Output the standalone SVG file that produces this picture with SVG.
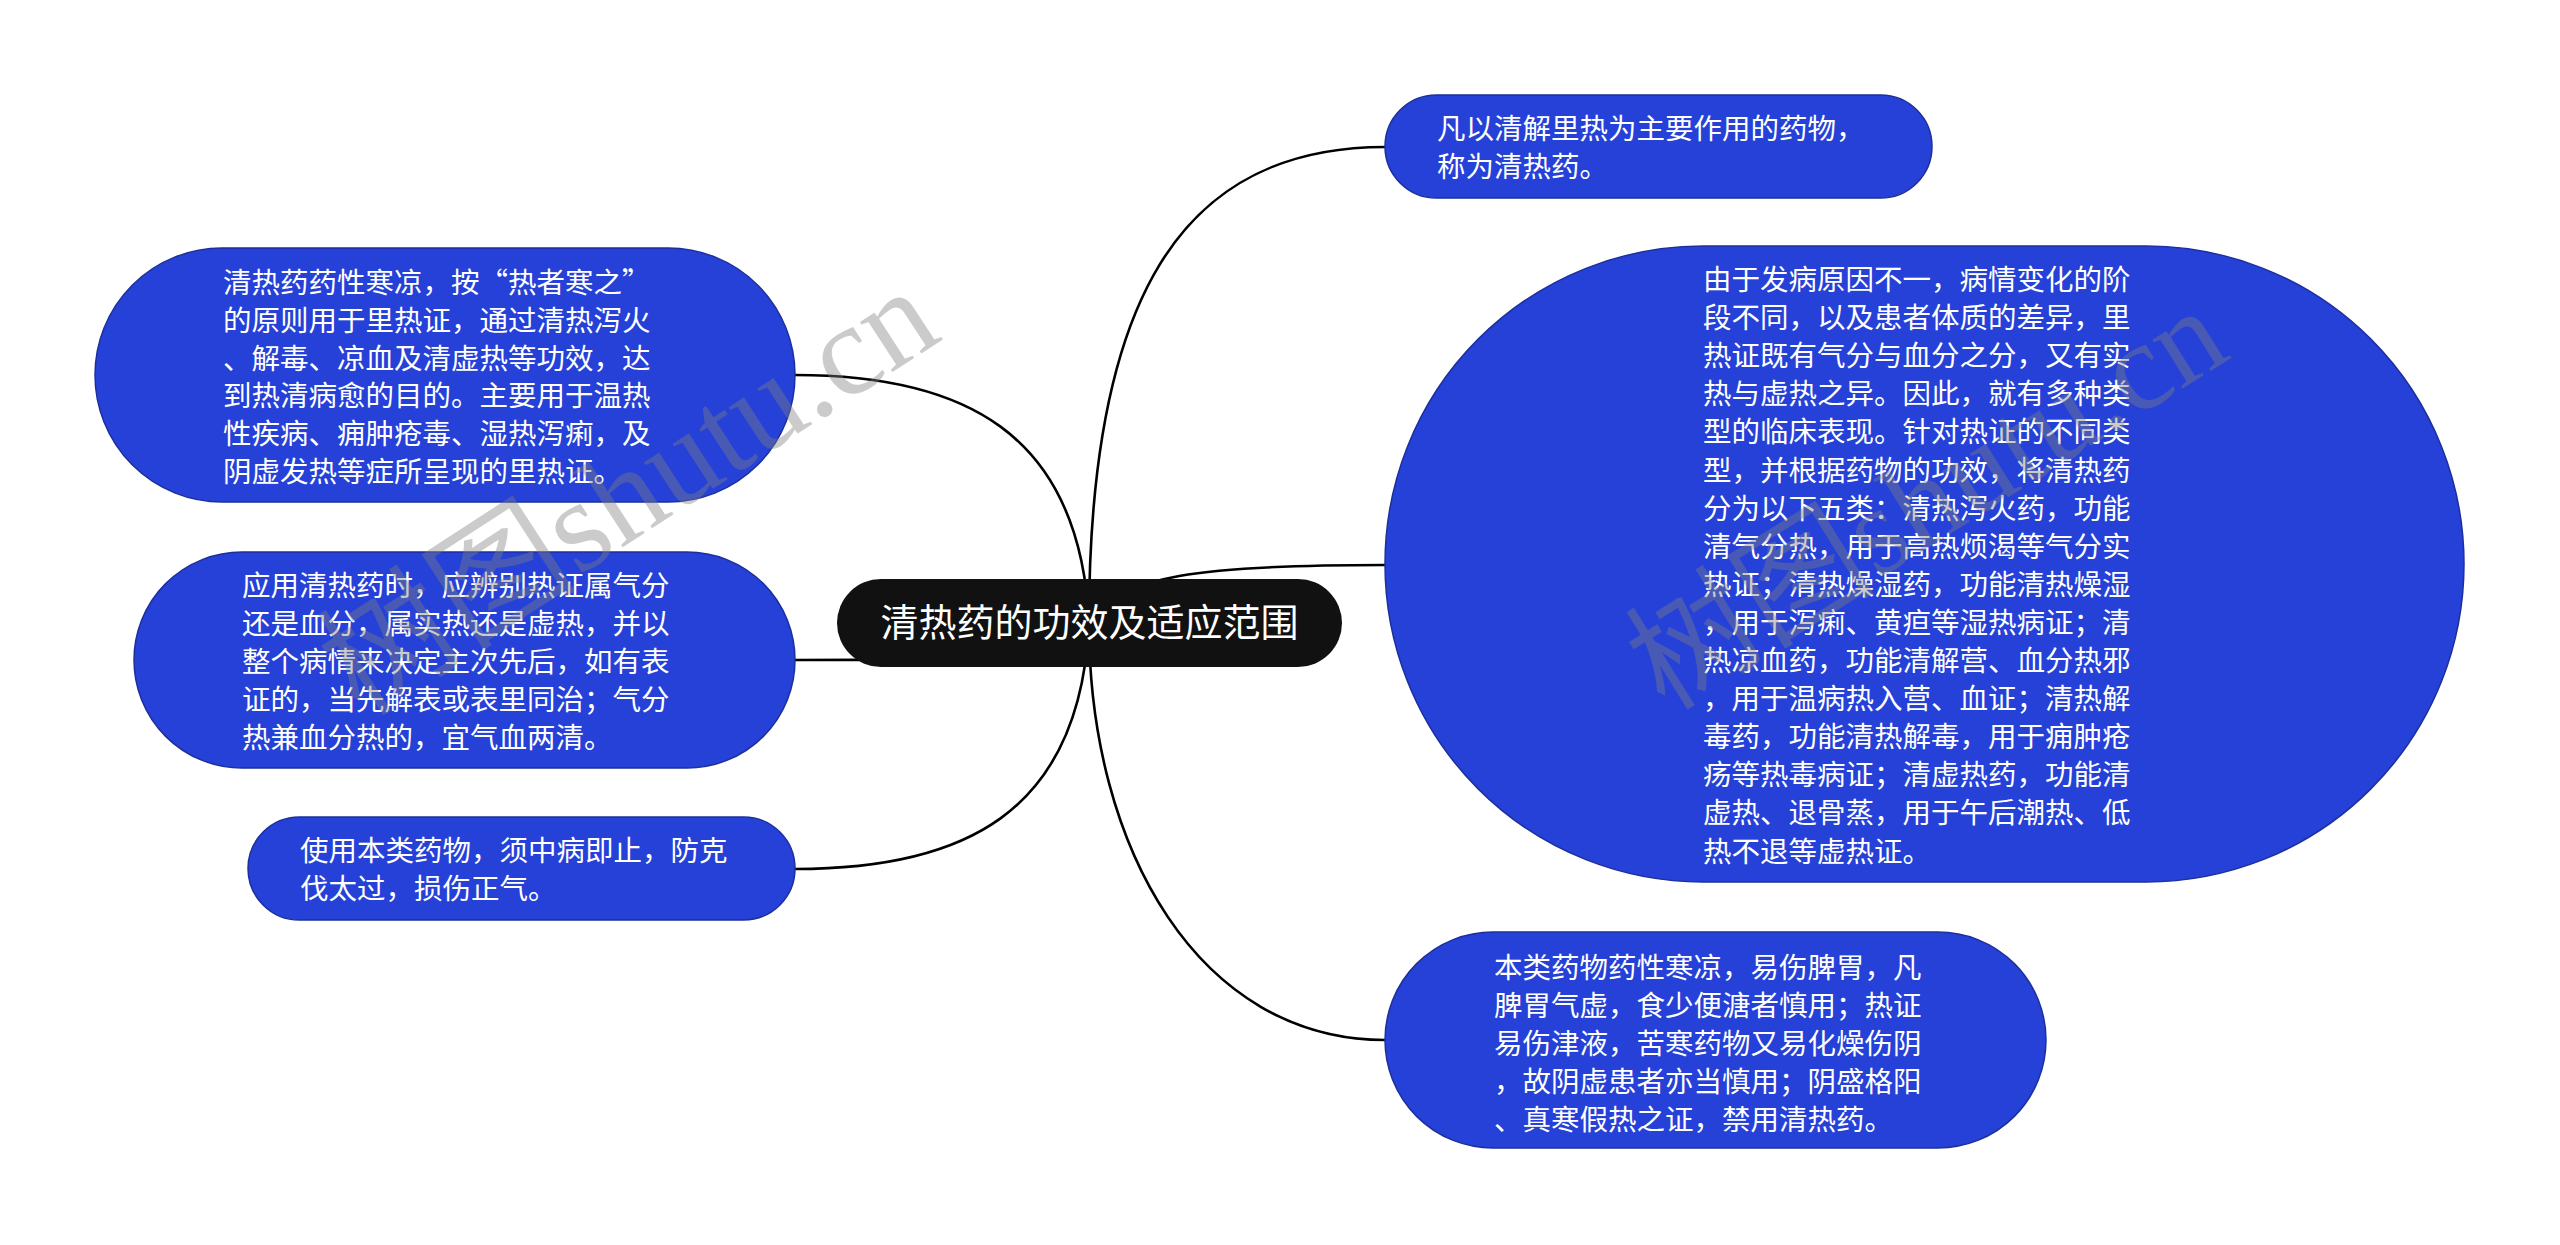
<svg xmlns="http://www.w3.org/2000/svg" width="2560" height="1245" viewBox="0 0 2560 1245">
<style>
.node{fill:#2541D8;stroke:#1D2F9C;stroke-width:1.5}
.t{font-family:"Noto Sans CJK SC","Liberation Sans",sans-serif;font-size:28.5px;fill:#ffffff}
.root{fill:#111111}
.rt{font-family:"Noto Sans CJK SC","Liberation Sans",sans-serif;font-size:38px;fill:#ffffff;text-anchor:middle}
.edge{fill:none;stroke:#000000;stroke-width:2.6}
.wm{font-family:"Liberation Serif","Noto Sans CJK SC",serif;fill:#808080;opacity:0.4}
</style>
<rect width="2560" height="1245" fill="#ffffff"/>
<g id="connectors">
<path class="edge" d="M1089,623 C1089,300 1180,147 1385,147"/>
<path class="edge" d="M1089,623 C1120,575 1200,565 1385,565"/>
<path class="edge" d="M1089,623 C1089,850 1200,1040 1385,1040"/>
<path class="edge" d="M1089,623 C1080,430 960,375 795,375"/>
<path class="edge" d="M1089,623 C1040,660 950,660 795,660"/>
<path class="edge" d="M1089,623 C1080,816 960,869 795,869"/>
</g>
<g id="root">
<rect class="root" x="837" y="579" width="505" height="88" rx="44"/>
<text class="rt" x="1089.5" y="636">清热药的功效及适应范围</text>
</g>
<g id="node-r1">
<rect class="node" x="1385" y="95" width="547" height="103" rx="51.5"/>
<text class="t" x="1437" y="139">凡以清解里热为主要作用的药物，</text>
<text class="t" x="1437" y="177">称为清热药。</text>
</g>
<g id="node-r2">
<rect class="node" x="1385" y="246" width="1079" height="636" rx="318"/>
<text class="t" x="1703" y="290">由于发病原因不一，病情变化的阶</text>
<text class="t" x="1703" y="328.1">段不同，以及患者体质的差异，里</text>
<text class="t" x="1703" y="366.2">热证既有气分与血分之分，又有实</text>
<text class="t" x="1703" y="404.3">热与虚热之异。因此，就有多种类</text>
<text class="t" x="1703" y="442.4">型的临床表现。针对热证的不同类</text>
<text class="t" x="1703" y="480.5">型，并根据药物的功效，将清热药</text>
<text class="t" x="1703" y="518.6">分为以下五类：清热泻火药，功能</text>
<text class="t" x="1703" y="556.7">清气分热，用于高热烦渴等气分实</text>
<text class="t" x="1703" y="594.8">热证；清热燥湿药，功能清热燥湿</text>
<text class="t" x="1703" y="632.9">，用于泻痢、黄疸等湿热病证；清</text>
<text class="t" x="1703" y="671">热凉血药，功能清解营、血分热邪</text>
<text class="t" x="1703" y="709.1">，用于温病热入营、血证；清热解</text>
<text class="t" x="1703" y="747.2">毒药，功能清热解毒，用于痈肿疮</text>
<text class="t" x="1703" y="785.3">疡等热毒病证；清虚热药，功能清</text>
<text class="t" x="1703" y="823.4">虚热、退骨蒸，用于午后潮热、低</text>
<text class="t" x="1703" y="861.5">热不退等虚热证。</text>
</g>
<g id="node-r3">
<rect class="node" x="1385" y="932" width="661" height="216" rx="108"/>
<text class="t" x="1494" y="978">本类药物药性寒凉，易伤脾胃，凡</text>
<text class="t" x="1494" y="1016">脾胃气虚，食少便溏者慎用；热证</text>
<text class="t" x="1494" y="1054">易伤津液，苦寒药物又易化燥伤阴</text>
<text class="t" x="1494" y="1092">，故阴虚患者亦当慎用；阴盛格阳</text>
<text class="t" x="1494" y="1130">、真寒假热之证，禁用清热药。</text>
</g>
<g id="node-l1">
<rect class="node" x="95" y="248" width="700" height="254" rx="127"/>
<text class="t" x="223" y="293">清热药药性寒凉，按“热者寒之”</text>
<text class="t" x="223" y="330.8">的原则用于里热证，通过清热泻火</text>
<text class="t" x="223" y="368.6">、解毒、凉血及清虚热等功效，达</text>
<text class="t" x="223" y="406.4">到热清病愈的目的。主要用于温热</text>
<text class="t" x="223" y="444.2">性疾病、痈肿疮毒、湿热泻痢，及</text>
<text class="t" x="223" y="482">阴虚发热等症所呈现的里热证。</text>
</g>
<g id="node-l2">
<rect class="node" x="134" y="552" width="661" height="216" rx="108"/>
<text class="t" x="242" y="596">应用清热药时，应辨别热证属气分</text>
<text class="t" x="242" y="634">还是血分，属实热还是虚热，并以</text>
<text class="t" x="242" y="672">整个病情来决定主次先后，如有表</text>
<text class="t" x="242" y="710">证的，当先解表或表里同治；气分</text>
<text class="t" x="242" y="748">热兼血分热的，宜气血两清。</text>
</g>
<g id="node-l3">
<rect class="node" x="248" y="817" width="547" height="103" rx="51.5"/>
<text class="t" x="300" y="861">使用本类药物，须中病即止，防克</text>
<text class="t" x="300" y="899">伐太过，损伤正气。</text>
</g>
<g id="watermark">
<text class="wm" font-size="130" transform="translate(360,718) rotate(-33)">树图shutu.cn</text>
<text class="wm" font-size="125" transform="translate(1665,712) rotate(-32)">树图shutu.cn</text>
</g>
</svg>
